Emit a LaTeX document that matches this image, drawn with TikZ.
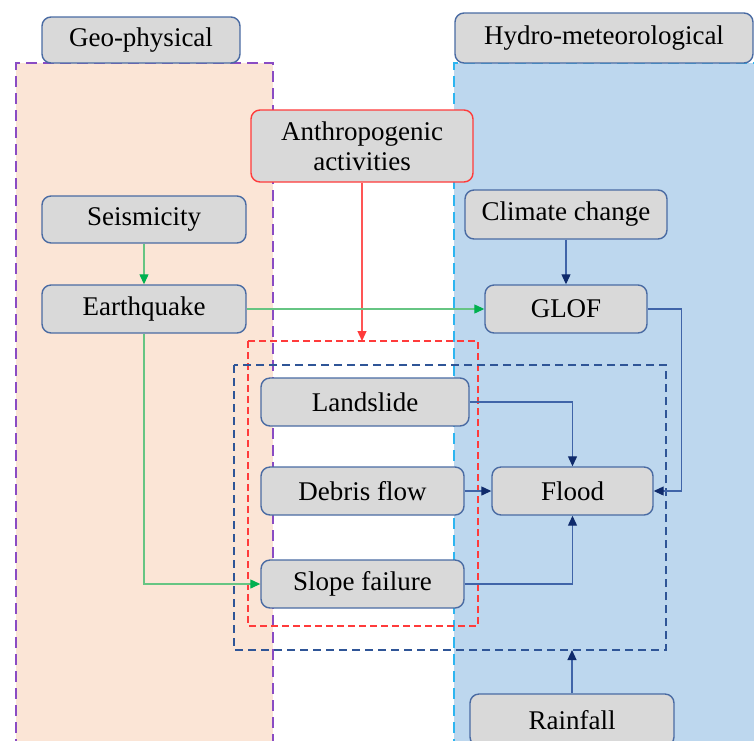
\documentclass[tikz,border=0pt]{standalone}
\usepackage{fontspec}
\setmainfont{Liberation Serif}
\usetikzlibrary{arrows.meta}
\definecolor{boxfill}{HTML}{D9D9D9}
\definecolor{boxline}{HTML}{4A6BA3}
\definecolor{orangefill}{HTML}{FBE5D6}
\definecolor{bluefill}{HTML}{BDD7EE}
\definecolor{purpleline}{HTML}{8A4CC4}
\definecolor{cyanline}{HTML}{2DB5F0}
\definecolor{redline}{HTML}{FF3B3B}
\definecolor{navyline}{HTML}{2F5597}
\definecolor{navytip}{HTML}{0F2A6B}
\definecolor{connline}{HTML}{4064A8}
\definecolor{greenline}{HTML}{66C583}
\definecolor{greentip}{HTML}{00B050}
\definecolor{antred}{HTML}{FF5555}
\tikzset{
  x=1pt,y=-1pt,
  txt/.style={font=\rmfamily\fontsize{27}{30}\selectfont},
  hbox/.style={txt,draw=boxline,fill=boxfill,line width=1.4pt,rounded corners=9pt,inner sep=0pt,align=center},
  navyarrow/.style={draw=connline,line width=1.2pt,-{Triangle[length=10pt,width=9pt,fill=navytip,color=navytip]}},
  greenarrow/.style={draw=greenline,line width=1.2pt,-{Triangle[length=10pt,width=9pt,fill=greentip,color=greentip]}},
  redarrow/.style={draw=antred,line width=1.2pt,-{Triangle[length=10pt,width=9pt,fill=redline,color=redline]}},
}
\begin{document}
\begin{tikzpicture}
\useasboundingbox (0,0) rectangle (754,740);
% regions
\fill[orangefill] (16,63) rectangle (273,750);
\fill[bluefill] (454,63) rectangle (760,750);
\draw[purpleline,line width=1.5pt,dash pattern=on 11pt off 6pt] (16,750) -- (16,63) -- (273,63) -- (273,750);
\draw[cyanline,line width=1.5pt,dash pattern=on 11pt off 6pt] (454,750) -- (454,63) -- (760,63);
% headers
\node[hbox,minimum width=198pt,minimum height=46pt] (geo) at (141,40) {Geo-physical};
\node[hbox,minimum width=298pt,minimum height=50pt] (hydro) at (604,38) {Hydro-meteorological};
% dashed groups
\coordinate (rtl) at (248,341);
\coordinate (rbr) at (478,626);
\coordinate (btl) at (234,365);
\coordinate (bbr) at (666,650);
\draw[redline,line width=1.5pt,dash pattern=on 7pt off 4pt] (rtl) rectangle (rbr);
\draw[navyline,line width=1.5pt,dash pattern=on 8pt off 5pt] (btl) rectangle (bbr);
\coordinate (rtop) at (362,341);
\coordinate (bbot) at (572,650);
% boxes
\node[hbox,draw=redline,minimum width=222pt,minimum height=72pt] (anthro) at (362,146) {Anthropogenic\\activities};
\node[hbox,minimum width=204pt,minimum height=47pt] (seis) at (144,219.5) {Seismicity};
\node[hbox,minimum width=204pt,minimum height=48pt] (earth) at (144,309) {Earthquake};
\node[hbox,minimum width=202pt,minimum height=49pt] (climate) at (566,214.5) {Climate change};
\node[hbox,minimum width=162pt,minimum height=48pt] (glof) at (566,309) {GLOF};
\node[hbox,minimum width=208pt,minimum height=48pt] (land) at (365,402) {Landslide};
\node[hbox,minimum width=203pt,minimum height=48pt] (debris) at (362.5,491) {Debris flow};
\node[hbox,minimum width=161pt,minimum height=48pt] (flood) at (572.5,491) {Flood};
\node[hbox,minimum width=203pt,minimum height=48pt] (slope) at (362.5,584) {Slope failure};
\node[hbox,minimum width=204pt,minimum height=52pt] (rain) at (572,720) {Rainfall};
% connectors
\draw[redarrow] (anthro.south) -- (rtop);
\draw[greenarrow] (seis.south) -- (earth.north);
\draw[greenarrow] (earth.east) -- (glof.west);
\draw[greenarrow] (earth.south) |- (slope.west);
\draw[navyarrow] (climate.south) -- (glof.north);
\draw[navyarrow] (glof.east) -- ++(34,0) |- (flood.east);
\draw[navyarrow] (land.east) -| (flood.north);
\draw[navyarrow] (debris.east) -- (flood.west);
\draw[navyarrow] (slope.east) -| (flood.south);
\draw[navyarrow] (rain.north) -- (bbot);
\end{tikzpicture}
\end{document}
